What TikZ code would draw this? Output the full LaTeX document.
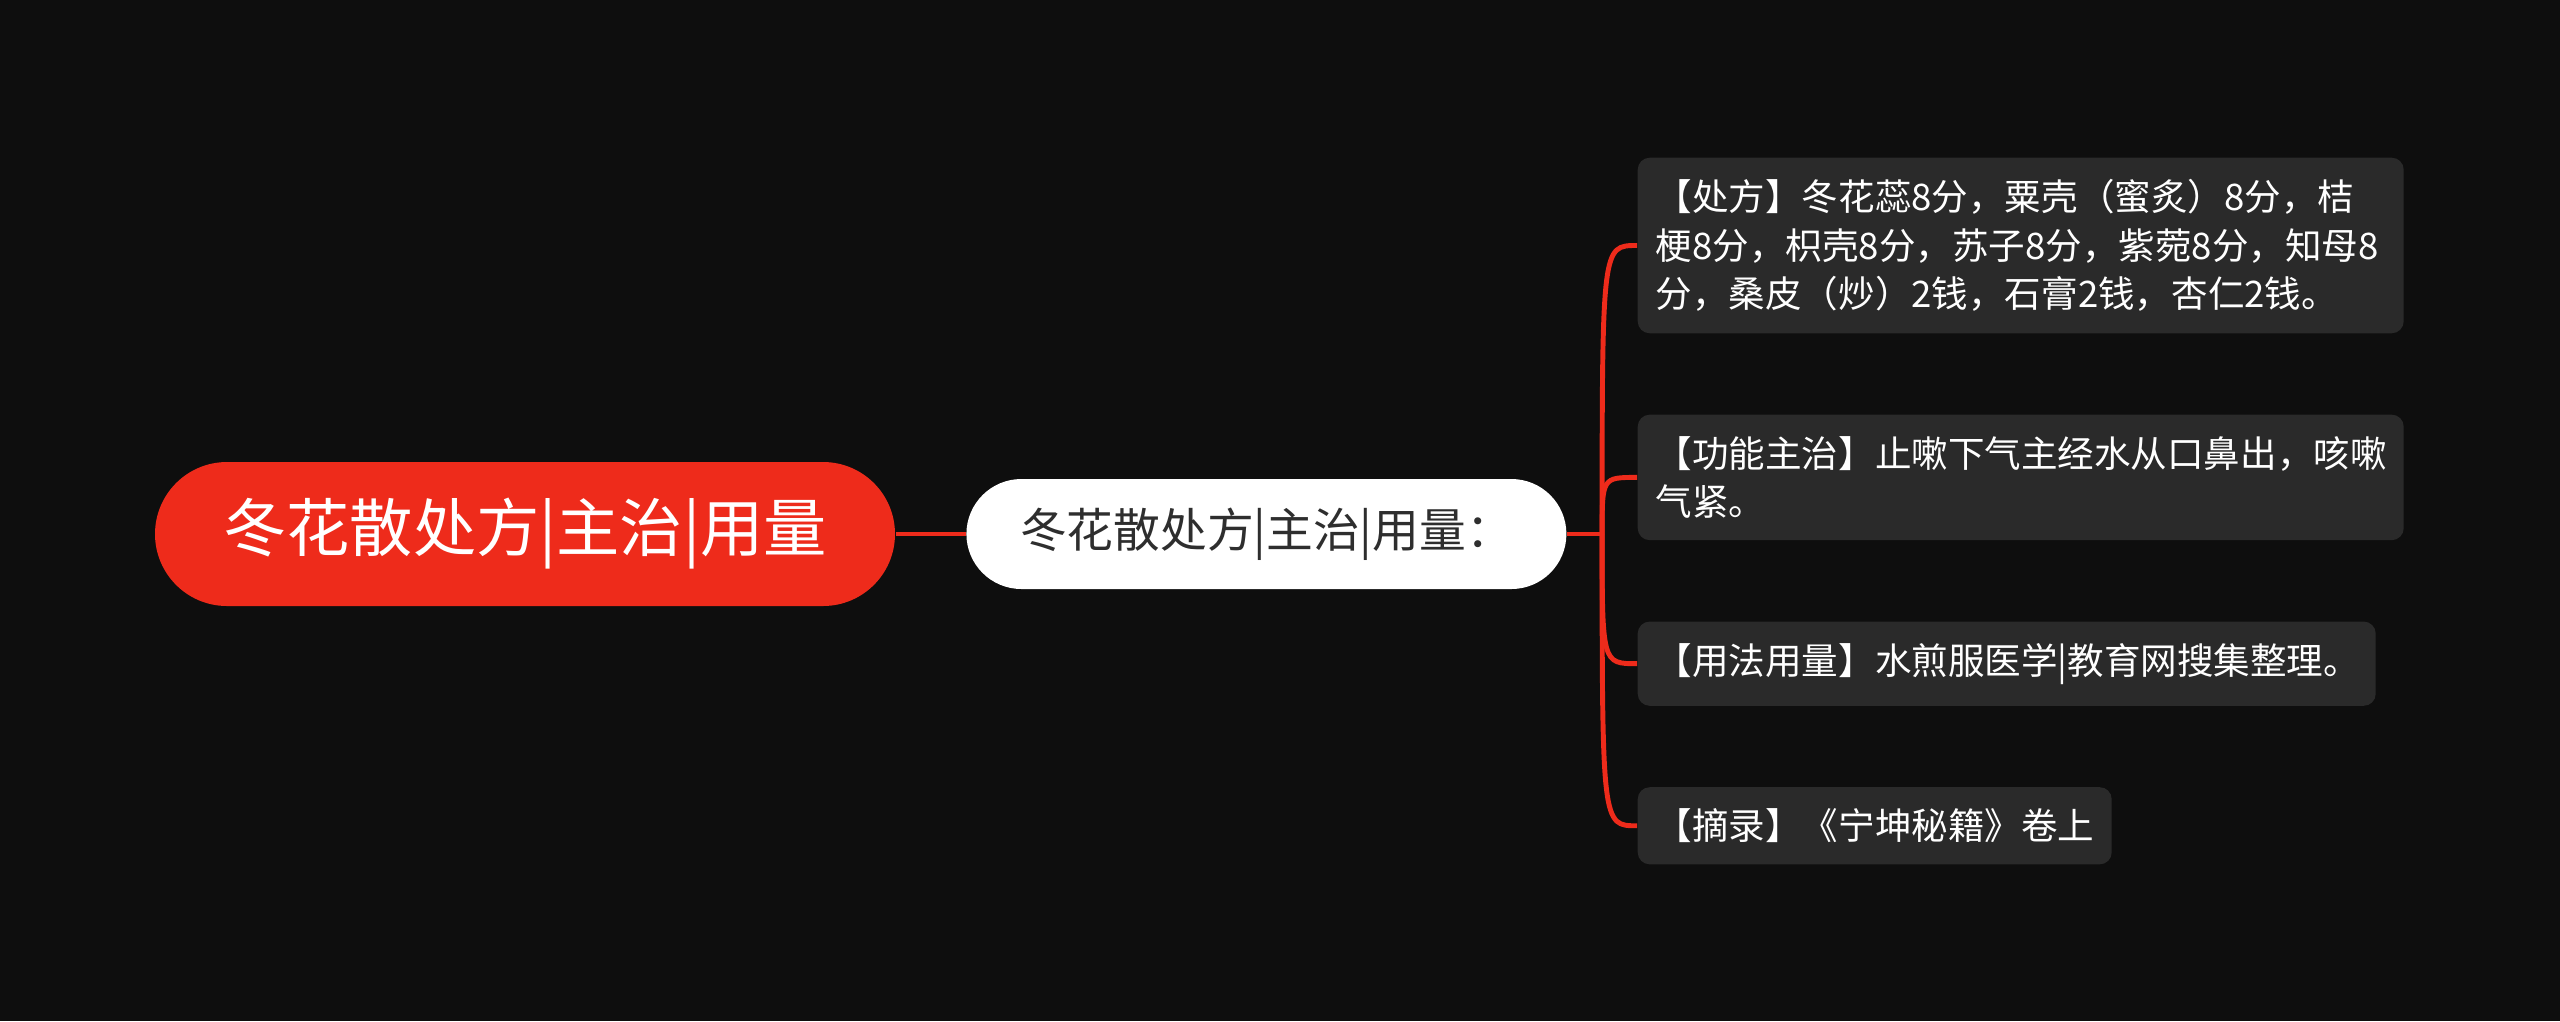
\documentclass[tikz,border=0pt]{standalone}
\usepackage{fontspec}
\setmainfont{Noto Sans CJK SC}
\usepackage{tikz}
\usetikzlibrary{positioning}
\definecolor{bgdark}{HTML}{0E0E0E}
\definecolor{mapred}{HTML}{EE2B1B}
\definecolor{leafgray}{HTML}{2A2A2A}
\definecolor{subtext}{HTML}{2E2E2E}

\begin{document}
\begin{tikzpicture}[
					mainbox/.style={rectangle, fill=mapred, text=white, minimum width=7.4cm, minimum height=1.44cm, rounded corners=0.72cm, font=\fontsize{18pt}{22pt}\selectfont},
					subbox/.style={rectangle, fill=white, text=subtext, minimum width=6cm, minimum height=1.1cm, rounded corners=0.55cm, font=\fontsize{13.3pt}{16pt}\selectfont},
					leaf/.style={rectangle, fill=leafgray, text=white, rounded corners=0.12cm, align=left, inner xsep=0.18cm, inner ysep=0.215cm, font=\fontsize{10.4pt}{13.85pt}\selectfont},
					link/.style={draw=mapred, line width=1.4pt}
				]
				\fill[bgdark] (0,0) rectangle (25.6,-10.21);
				\useasboundingbox (0,0) rectangle (25.6,-10.21);
				\node[mainbox] (mainnode) at (5.25,-5.34) {冬花散处方|主治|用量};
				\node[subbox] (subnode) [right=0.7cm of mainnode] {冬花散处方|主治|用量：};
				\coordinate[right=0.35cm of subnode] (fork);
				\node[leaf, text width=7.3cm] (recipe) at (16.37,-1.57) [anchor=north west] {【处方】冬花蕊8分，粟壳（蜜炙）8分，桔\\梗8分，枳壳8分，苏子8分，紫菀8分，知母8\\分，桑皮（炒）2钱，石膏2钱，杏仁2钱。};
				\node[leaf, text width=7.3cm] (function) [below=8mm of recipe.south west, anchor=north west] {【功能主治】止嗽下气主经水从口鼻出，咳嗽\\气紧。};
				\node[leaf, text width=7.02cm] (usage) [below=8mm of function.south west, anchor=north west] {【用法用量】水煎服医学|教育网搜集整理。};
				\node[leaf, text width=4.38cm] (source) [below=8mm of usage.south west, anchor=north west] {【摘录】《宁坤秘籍》卷上};
				\draw[link] (mainnode.east) -- (subnode.west);
				\draw[link] (subnode.east) -- (fork);
				\foreach \leafname in {recipe, function, usage, source}
					\draw[link] (fork) .. controls (fork |- \leafname.west) .. (\leafname.west);
				\end{tikzpicture}
\end{document}
